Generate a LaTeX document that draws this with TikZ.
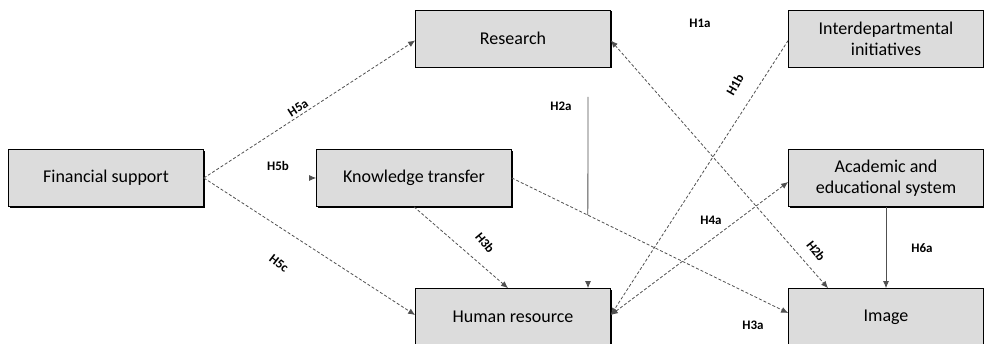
\documentclass[tikz,border=0pt]{standalone}
\usepackage{fontspec}
\setmainfont{Carlito}
\usetikzlibrary{arrows.meta,calc,shadows}

\definecolor{boxgray}{HTML}{DCDCDC}
\definecolor{linegray}{HTML}{505050}

\tikzset{
  factor/.style={draw=black, fill=boxgray, line width=0.7pt,
    minimum width=195pt, minimum height=57pt, inner sep=0pt, align=center,
    font=\fontsize{18}{21}\selectfont,
    drop shadow={shadow xshift=1.3pt, shadow yshift=-1.3pt, fill=black, opacity=1}},
  hyp/.style={font=\fontsize{13}{15}\selectfont\bfseries, inner sep=0pt},
  link/.style={draw=linegray, line width=0.8pt, densely dashed,
    -{Latex[length=7pt,width=6pt]}},
  twoway/.style={link, {Latex[length=7pt,width=6pt]}-{Latex[length=7pt,width=6pt]}},
  plain/.style={draw=linegray, line width=0.8pt}
}

\begin{document}
\begin{tikzpicture}[x=1pt, y=-1pt]
\useasboundingbox (0,0) rectangle (984,344);

\pgfmathsetmacro{\colA}{106}
\pgfmathsetmacro{\colB}{414}
\pgfmathsetmacro{\colC}{513}
\pgfmathsetmacro{\colD}{886}
\pgfmathsetmacro{\rowTop}{38.5}
\pgfmathsetmacro{\rowMid}{178}
\pgfmathsetmacro{\rowBot}{317}

\node[factor] (fs) at (\colA, \rowMid) {Financial support};
\node[factor] (res) at (\colC, \rowTop) {Research};
\node[factor] (kt) at (\colB, \rowMid) {Knowledge transfer};
\node[factor] (hr) at (\colC, \rowBot) {Human resource};
\node[factor] (inter) at (\colD, \rowTop) {Interdepartmental\\initiatives};
\node[factor] (acad) at (\colD, \rowMid) {Academic and\\educational system};
\node[factor] (img) at (\colD, \rowBot) {Image};

% financial support paths
\draw[link] (fs.east) -- ([yshift=-2pt]res.west);
\draw[link] ([xshift=-6pt]kt.west) -- (kt.west);
\draw[link] (fs.east) -- ([yshift=2pt]hr.west);

% knowledge transfer paths
\draw[link] (kt.south) -- ([xshift=-5pt]hr.north);
\draw[link] (kt.east) -- ([yshift=4pt]img.west);

% moderation H2a
\coordinate (mod) at (588,97);
\coordinate (modend) at ($(kt.east)!0.275!([yshift=4pt]img.west)$);
\draw[plain] (mod) -- (modend);
\draw[link, solid] ([xshift=75pt,yshift=6pt]hr.north) -- ([xshift=75pt]hr.north);

% cross paths
\draw[twoway] ([yshift=-2pt]res.east) -- ([xshift=-58pt]img.north);
\draw[link] ([yshift=-2pt]inter.west) -- ([yshift=2pt]hr.east);
\draw[twoway] ([yshift=2pt]hr.east) -- ([yshift=-4pt]acad.west);
\draw[plain, -{Latex[length=7pt,width=6pt]}] (acad.south) -- (img.north);

% hypothesis labels
\node[hyp, rotate=33] (h5a) at (298,108) {H5a};
\node[hyp] (h5b) at (278,166) {H5b};
\node[hyp, rotate=-38] (h5c) at (279,263) {H5c};
\node[hyp, rotate=-50] (h3b) at (485,243) {H3b};
\node[hyp] (h2a) at (561,106) {H2a};
\node[hyp] (h1a) at (700,23) {H1a};
\node[hyp, rotate=60] (h1b) at (735,85) {H1b};
\node[hyp] (h4a) at (711,220) {H4a};
\node[hyp, rotate=-52] (h2b) at (816,251) {H2b};
\node[hyp] (h6a) at (922,248) {H6a};
\node[hyp] (h3a) at (753,325) {H3a};
\end{tikzpicture}
\end{document}
